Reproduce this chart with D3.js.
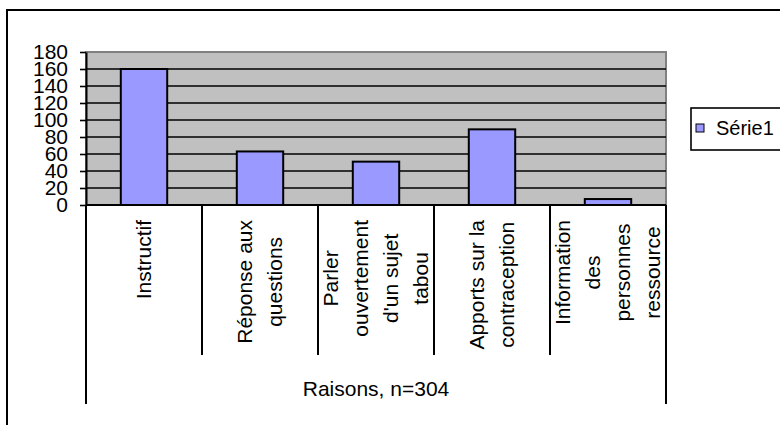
<!DOCTYPE html>
<html>
<head>
<meta charset="utf-8">
<script src="https://cdn.jsdelivr.net/npm/d3@7"></script>
<style>
  html, body { margin: 0; padding: 0; background: #fff; }
  svg { display: block; }
  text { font-family: "Liberation Sans", Arial, sans-serif; fill: #000; }
</style>
</head>
<body>
<svg id="chart" width="780" height="425"></svg>
<script>
// ---- data ----
const categories = ["Instructif", "Réponse aux questions", "Parler ouvertement d'un sujet tabou", "Apports sur la contraception", "Information des personnes ressource"];
const categoryLines = [["Instructif"], ["Réponse aux", "questions"], ["Parler", "ouvertement", "d'un sujet", "tabou"], ["Apports sur la", "contraception"], ["Information", "des", "personnes", "ressource"]];
const values = [160, 63, 51, 89, 7];
const seriesName = "Série1";
const yTicks = [0, 20, 40, 60, 80, 100, 120, 140, 160, 180];
const axisTitle = "Raisons, n=304";

// ---- layout ----
const svg = d3.select("#chart");
const plotL = 86, plotR = 666, plotT = 52, plotB = 205;
const fontSize = 21;

// outer chart frame
svg.append("rect").attr("x", 7).attr("y", 10).attr("width", 800).attr("height", 440)
  .attr("fill", "#fff").attr("stroke", "#000").attr("stroke-width", 2);

const x = d3.scaleBand().domain(categories).range([plotL, plotR]).paddingInner(0.6).paddingOuter(0.3);
const y = d3.scaleLinear().domain([0, 180]).range([plotB, plotT]);
const step = x.step();

// plot area
svg.append("rect").attr("x", plotL).attr("y", y(180)).attr("width", plotR - plotL).attr("height", y(0) - y(180))
  .attr("fill", "#C0C0C0").attr("stroke", "#808080").attr("stroke-width", 2);

// gridlines
svg.append("g").selectAll("line").data(yTicks.filter(v => v > 0 && v < 180)).join("line")
  .attr("x1", plotL).attr("x2", plotR).attr("y1", d => y(d)).attr("y2", d => y(d))
  .attr("stroke", "#000").attr("stroke-width", 1.6);

// bars
svg.append("g").selectAll("rect").data(values).join("rect")
  .attr("x", (d, i) => x(categories[i]))
  .attr("y", d => y(d))
  .attr("width", x.bandwidth())
  .attr("height", d => y(0) - y(d))
  .attr("fill", "#9999FF").attr("stroke", "#000").attr("stroke-width", 2);

// y axis
const yAxis = d3.axisLeft(y).tickValues(yTicks).tickSize(6).tickSizeOuter(0).tickPadding(12);
const gy = svg.append("g").attr("transform", `translate(${plotL},0)`).call(yAxis);
gy.select(".domain").attr("stroke", "#000").attr("stroke-width", 2);
gy.selectAll(".tick line").attr("stroke", "#000").attr("stroke-width", 1.6);
gy.selectAll(".tick text").attr("font-size", fontSize).attr("font-family", "Liberation Sans, Arial, sans-serif").attr("fill", "#000");

// category axis line & dividers
svg.append("line").attr("x1", plotL).attr("x2", plotR).attr("y1", plotB).attr("y2", plotB)
  .attr("stroke", "#000").attr("stroke-width", 2);
const bounds = d3.range(categories.length + 1).map(i => plotL + i * step);
svg.append("g").selectAll("line").data(bounds).join("line")
  .attr("x1", d => d).attr("x2", d => d)
  .attr("y1", plotB)
  .attr("y2", (d, i) => (i === 0 || i === categories.length) ? 404 : 355)
  .attr("stroke", "#000").attr("stroke-width", 2);

// category labels (rotated, wrapped)
const lineGap = 30;
const labelTop = 220;
categories.forEach((c, ci) => {
  const lines = categoryLines[ci];
  const cx = x(c) + x.bandwidth() / 2;
  const g = svg.append("g");
  const texts = lines.map((ln) => g.append("text")
      .attr("font-size", fontSize)
      .attr("text-anchor", "middle")
      .attr("dy", "0.35em")
      .text(ln));
  const maxLen = d3.max(texts, t => t.node().getComputedTextLength());
  const cy = labelTop + maxLen / 2;
  texts.forEach((t, li) => {
    const lx = cx + (li - (lines.length - 1) / 2) * lineGap;
    t.attr("transform", `translate(${lx},${cy}) rotate(-90)`);
  });
});

// axis title
svg.append("text").attr("x", (plotL + plotR) / 2).attr("y", 389).attr("dy", "0.35em")
  .attr("text-anchor", "middle").attr("font-size", fontSize).text(axisTitle);

// legend
const lg = svg.append("g");
lg.append("rect").attr("x", 691).attr("y", 108).attr("width", 200).attr("height", 42)
  .attr("fill", "#fff").attr("stroke", "#000").attr("stroke-width", 1.6);
lg.append("rect").attr("x", 696).attr("y", 124).attr("width", 8).attr("height", 8)
  .attr("fill", "#9999FF").attr("stroke", "#000").attr("stroke-width", 1);
lg.append("text").attr("x", 716).attr("y", 128).attr("dy", "0.35em").attr("font-size", 20).text(seriesName);
</script>
</body>
</html>
